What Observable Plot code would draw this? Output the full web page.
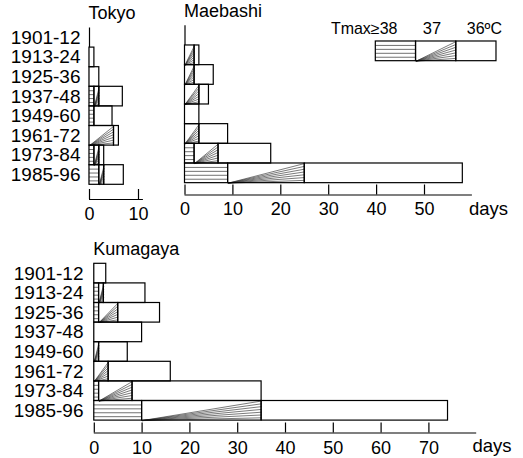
<!DOCTYPE html>
<html><head><meta charset="utf-8">
<script src="https://cdn.jsdelivr.net/npm/d3@7"></script>
<script src="https://cdn.jsdelivr.net/npm/@observablehq/plot@0.6"></script>
<style>
html,body{margin:0;padding:0;background:#fff;}
#chart{position:relative;width:523px;height:458px;overflow:hidden;background:#fff;}
#chart svg{position:absolute;}
</style></head><body><div id="chart"></div>
<script>
// ---- data ----
const periods = ["1901-12","1913-24","1925-36","1937-48","1949-60","1961-72","1973-84","1985-96"];
const tokyo38 = [0, 0, 0, 1, 1, 0, 1, 2];
const tokyo37 = [0, 0, 0, 1, 0, 5, 1, 1];
const tokyo36 = [0, 1, 2, 4.8, 3.7, 1, 1, 4];
const maebashi38 = [0, 0, 0, 0, 0, 0, 2, 9];
const maebashi37 = [0, 2, 2, 3, 0, 3, 5, 16];
const maebashi36 = [0, 1, 4, 2, 3, 6, 11, 33];
const kumagaya38 = [0, 1, 1, 0, 0, 0, 1, 10];
const kumagaya37 = [0, 1, 4, 0, 1, 3, 7, 25];
const kumagaya36 = [2.5, 8.7, 8.75, 10, 6, 13, 27, 39];
const legendLabels = ["Tmax\u226538", "37", "36\u00baC"];
const legendClasses = ["38", "37", "36"];
const ticksTokyo = [0, 10];
const ticksMaebashi = [0, 10, 20, 30, 40, 50];
const ticksKumagaya = [0, 10, 20, 30, 40, 50, 60, 70];
const unitLabel = "days";

const FONT = '"Liberation Sans", Arial, Helvetica, sans-serif';
const chart = document.getElementById("chart");

function buildSegments(v38, v37, v36) {
  return periods.flatMap((p, i) => {
    const a = v38[i], b = v37[i], c = v36[i];
    return [
      {i, cls: "38", x1: 0, x2: a},
      {i, cls: "37", x1: a, x2: a + b},
      {i, cls: "36", x1: a + b, x2: a + b + c}
    ];
  }).filter(s => s.x2 > s.x1);
}
function hatchLines(segs) {
  return segs.filter(s => s.cls === "38").flatMap(s =>
    d3.range(1, 5).map(k => ({x1: s.x1, x2: s.x2, y: s.i - 0.5 + k / 5})));
}
function fanLines(segs) {
  return segs.filter(s => s.cls === "37").flatMap(s =>
    d3.range(0, 7).map(k => ({x1: s.x1, y1: s.i + 0.5, x2: s.x2, y2: s.i - 0.5 + k / 7})));
}
function barMarks(segs) {
  return [
    Plot.rect(segs, {x1: "x1", x2: "x2", y1: d => d.i - 0.5, y2: d => d.i + 0.5, fill: "white"}),
    Plot.ruleY(hatchLines(segs), {x1: "x1", x2: "x2", y: "y", stroke: "#333", strokeWidth: 0.7}),
    Plot.link(fanLines(segs), {x1: "x1", y1: "y1", x2: "x2", y2: "y2", stroke: "#333", strokeWidth: 0.65}),
    Plot.rect(segs, {x1: "x1", x2: "x2", y1: d => d.i - 0.5, y2: d => d.i + 0.5, fill: "none", stroke: "#000", strokeWidth: 1.2})
  ];
}

function place(svg, left, top) {
  svg.style.left = left + "px";
  svg.style.top = top + "px";
  chart.appendChild(svg);
}

function panel(cfg) {
  const segs = buildSegments(cfg.v38, cfg.v37, cfg.v36);
  const frameH = cfg.axisY - cfg.rowTop;
  const gap = frameH - periods.length * cfg.rowH;
  const yMax = frameH / cfg.rowH - 0.5;
  const marginLeft = cfg.zeroX - cfg.left;
  const rangeW = cfg.xMax * cfg.pxPerDay;
  const marginTop = cfg.rowTop - cfg.top;
  const yScale = {domain: [-0.5, yMax], reverse: true, label: null};
  if (!cfg.yLabels) yScale.axis = null;
  const svg = Plot.plot({
    width: cfg.width, height: cfg.height,
    marginLeft, marginRight: cfg.width - marginLeft - rangeW,
    marginTop, marginBottom: cfg.height - marginTop - frameH,
    x: {domain: [0, cfg.xMax], label: null},
    y: yScale,
    style: {fontFamily: FONT, fontSize: "18px", color: "#000", background: "transparent", overflow: "visible"},
    marks: [
      Plot.ruleX([0], {insetBottom: gap, stroke: "#000", strokeWidth: 1.2}),
      ...barMarks(segs),
      Plot.ruleY([yMax], {stroke: "#000", strokeWidth: 1.2}),
      Plot.ruleX(cfg.xTicks, {insetTop: frameH - 10, stroke: "#000", strokeWidth: 1.2}),
      Plot.axisX(cfg.xTicks, {tickSize: 0, tickPadding: cfg.tickPad, fontSize: 18, label: null, fill: "#000"}),
      cfg.yLabels ? Plot.axisY(d3.range(periods.length), {tickSize: 0, tickPadding: cfg.yPad, tickFormat: i => periods[i], fontSize: 19, label: null, fill: "#000"}) : null,
      Plot.text([cfg.title], {frameAnchor: "top-left", textAnchor: "start", lineAnchor: "top", dx: -1, dy: cfg.titleDy, fontSize: 18, fill: "#000"}),
      cfg.days ? Plot.text([unitLabel], {frameAnchor: "bottom-right", textAnchor: "start", lineAnchor: "top", dx: cfg.daysDx, dy: cfg.daysDy, fontSize: 18.5, fill: "#000"}) : null
    ]
  });
  place(svg, cfg.left, cfg.top);
}

// Tokyo
panel({title: "Tokyo", v38: tokyo38, v37: tokyo37, v36: tokyo36, xMax: 11, xTicks: ticksTokyo,
  left: 0, top: 0, width: 160, height: 229, zeroX: 89, pxPerDay: 4.9,
  rowTop: 27.5, rowH: 19.6, axisY: 199, tickPad: 8, yLabels: true, yPad: 9, titleDy: -22, days: false});

// Maebashi
panel({title: "Maebashi", v38: maebashi38, v37: maebashi37, v36: maebashi36, xMax: 60, xTicks: ticksMaebashi,
  left: 165, top: 0, width: 358, height: 229, zeroX: 184.5, pxPerDay: 4.79,
  rowTop: 25.3, rowH: 19.67, axisY: 194.5, tickPad: 7, yLabels: false, titleDy: -21.1,
  days: true, daysDx: -3.5, daysDy: 7});

// Kumagaya
panel({title: "Kumagaya", v38: kumagaya38, v37: kumagaya37, v36: kumagaya36, xMax: 80, xTicks: ticksKumagaya,
  left: 0, top: 235, width: 523, height: 223, zeroX: 93.8, pxPerDay: 4.78,
  rowTop: 263.3, rowH: 19.6, axisY: 432.5, tickPad: 8.5, yLabels: true, yPad: 10.8, titleDy: -21.1,
  days: true, daysDx: -4.3, daysDy: 5.5});

// Legend
(function legend() {
  const segs = legendLabels.map((l, j) => ({i: 0, cls: legendClasses[j], x1: j, x2: j + 1, label: l}));
  const left = 320, top = 0, width = 190, boxLeft = 375.3, boxRight = 496, rowTop = 41, rowH = 19.7;
  const svg = Plot.plot({
    width, height: rowTop + rowH + 4,
    marginLeft: boxLeft - left, marginRight: left + width - boxRight,
    marginTop: rowTop - top, marginBottom: 4,
    x: {domain: [0, legendLabels.length], axis: null, label: null},
    y: {domain: [-0.5, 0.5], reverse: true, axis: null, label: null},
    style: {fontFamily: FONT, fontSize: "16px", color: "#000", background: "transparent", overflow: "visible"},
    marks: [
      ...barMarks(segs),
      Plot.text(segs.filter(s => s.cls === "38"), {x: d => d.x1 + 0.5, y: d => d.i - 0.5, text: "label", textAnchor: "end", lineAnchor: "top", dx: 1.5, dy: -19.1, fontSize: 16, fill: "#000"}),
      Plot.text(segs.filter(s => s.cls === "37"), {x: d => d.x1 + 0.5, y: d => d.i - 0.5, text: "label", textAnchor: "middle", lineAnchor: "top", dx: -4.2, dy: -19.1, fontSize: 16.5, fill: "#000"}),
      Plot.text(segs.filter(s => s.cls === "36"), {x: d => d.x1 + 0.5, y: d => d.i - 0.5, text: "label", textAnchor: "middle", lineAnchor: "top", dx: 8, dy: -19.1, fontSize: 16, fill: "#000"})
    ]
  });
  place(svg, left, top);
})();
</script>
</body></html>
